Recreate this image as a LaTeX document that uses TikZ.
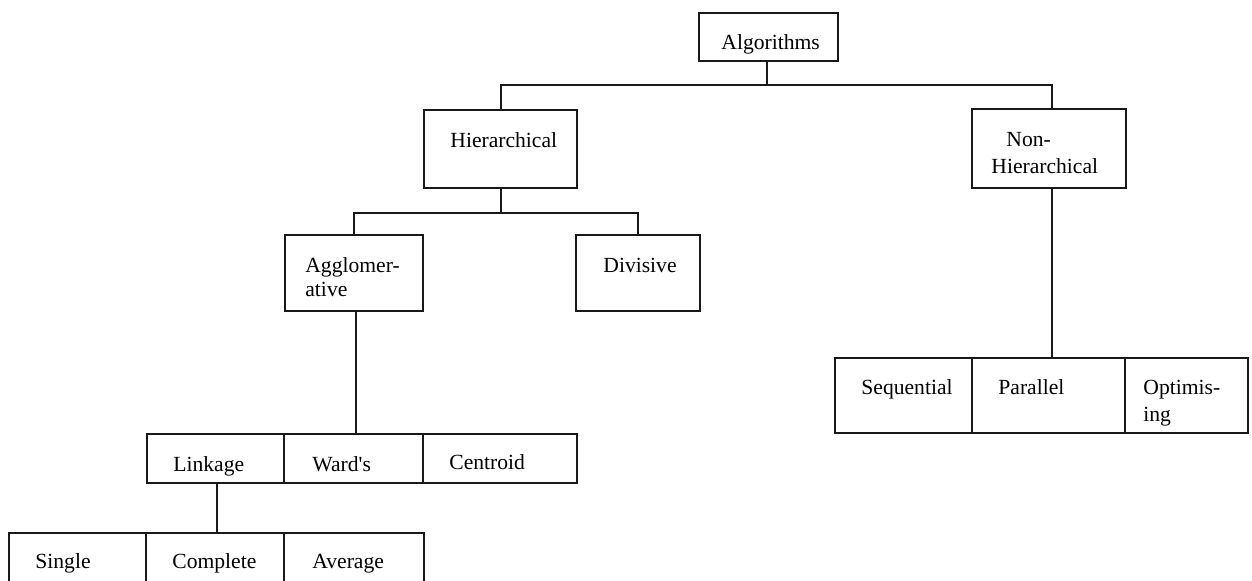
\documentclass[tikz,border=0pt]{standalone}
\usepackage{fontspec}
\setmainfont{Liberation Serif}
\begin{document}
\begin{tikzpicture}[x=0.5pt,y=-0.5pt,
  box/.style={draw=black!90, line width=1.2pt, inner sep=0pt, rectangle},
  txt/.style={anchor=base west, inner sep=0pt, font=\fontsize{10.8pt}{13pt}\selectfont, text=black},
  conn/.style={draw=black!90, line width=1.2pt, line join=miter}]
\useasboundingbox (0,0) rectangle (1252,581);
% boxes
\node[box, minimum width=69.5pt, minimum height=24pt] (alg) at (768.5,37) {};
\node[box, minimum width=76.5pt, minimum height=39pt] (hier) at (500.5,149) {};
\node[box, minimum width=77pt, minimum height=39.5pt] (nonh) at (1049,148.5) {};
\node[box, minimum width=69pt, minimum height=38pt] (agg) at (354,273) {};
\node[box, minimum width=62pt, minimum height=38pt] (div) at (638,273) {};
\node[box, minimum width=68.5pt, minimum height=24.5pt] (link) at (215.5,458.5) {};
\node[box, minimum width=69.5pt, minimum height=24.5pt] (ward) at (353.5,458.5) {};
\node[box, minimum width=77pt, minimum height=24.5pt] (cent) at (500,458.5) {};
\node[box, minimum width=68.5pt, minimum height=28.5pt] (single) at (77.5,561.5) {};
\node[box, minimum width=69pt, minimum height=28.5pt] (compl) at (215,561.5) {};
\node[box, minimum width=70pt, minimum height=28.5pt] (avg) at (354,561.5) {};
\node[box, minimum width=68.5pt, minimum height=37.5pt] (seq) at (903.5,395.5) {};
\node[box, minimum width=76.5pt, minimum height=37.5pt] (par) at (1048.5,395.5) {};
\node[box, minimum width=61.5pt, minimum height=37.5pt] (opt) at (1186.5,395.5) {};
% texts
\node[txt] (talg) at (721,50) {Algorithms};
\node[txt] (thier) at (450,148) {Hierarchical};
\node[txt] (tnon1) at (1006,147) {Non-};
\node[txt] (tnon2) at (991,174) {Hierarchical};
\node[txt] (tagg1) at (305,273) {Agglomer-};
\node[txt] (tagg2) at (305,297) {ative};
\node[txt] (tdiv) at (603,273) {Divisive};
\node[txt] (tlink) at (173,472) {Linkage};
\node[txt] (tward) at (312,472) {Ward\textquotesingle s};
\node[txt] (tcent) at (449,470) {Centroid};
\node[txt] (tsing) at (35,569) {Single};
\node[txt] (tcomp) at (172,569) {Complete};
\node[txt] (tavg) at (312,569) {Average};
\node[txt] (tseq) at (861,395) {Sequential};
\node[txt] (tpar) at (998,395) {Parallel};
\node[txt] (topt1) at (1143,395) {Optimis-};
\node[txt] (topt2) at (1143,422) {ing};
% connectors
\coordinate (j1) at (767,85);
\coordinate (j2) at (501,213);
\draw[conn] (alg.south -| j1) -- (j1);
\draw[conn] (hier.north -| j2) |- (j1) -| (nonh.north -| 1052,0);
\draw[conn] (hier.south -| j2) -- (j2);
\draw[conn] (agg.north) |- (j2) -| (div.north);
\draw[conn] (agg.south -| 356,0) -- (ward.north -| 356,0);
\draw[conn] (link.south -| 217,0) -- (compl.north -| 217,0);
\draw[conn] (nonh.south -| 1052,0) -- (par.north -| 1052,0);
\end{tikzpicture}
\end{document}
